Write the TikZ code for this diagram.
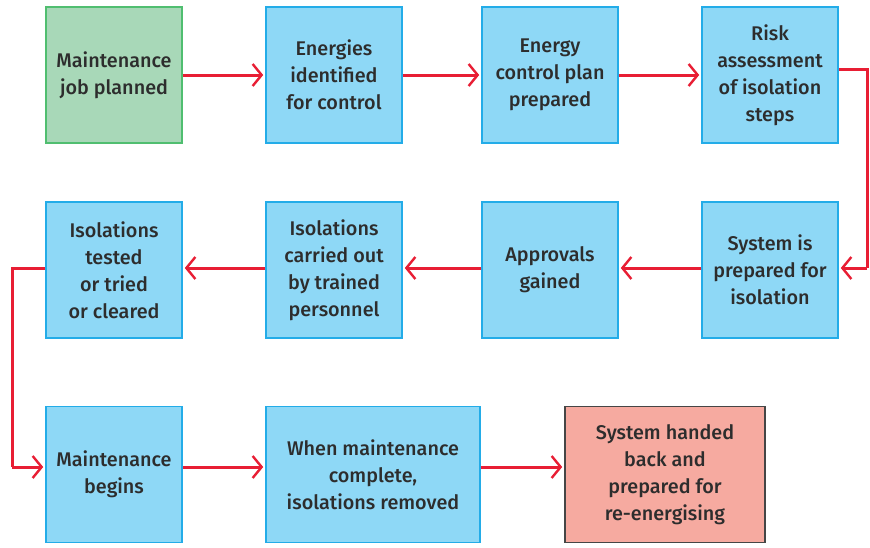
\documentclass[tikz,border=0pt]{standalone}
\usepackage{fontspec}
\setmainfont{Fira Sans}[UprightFont=* Medium]
\usetikzlibrary{arrows.meta}
\definecolor{boxblue}{RGB}{142,216,246}
\definecolor{edgeblue}{RGB}{35,172,232}
\definecolor{boxgreen}{RGB}{168,216,184}
\definecolor{edgegreen}{RGB}{80,190,112}
\definecolor{boxpink}{RGB}{246,170,160}
\definecolor{edgegray}{RGB}{70,70,70}
\definecolor{arrred}{RGB}{232,30,52}
\definecolor{txt}{RGB}{45,45,45}
\tikzset{
  stepbox/.style={draw=edgeblue, fill=boxblue, line width=1.6pt, minimum width=136pt, minimum height=136pt,
    inner sep=2pt, align=center, text=txt, font=\fontsize{19.8}{27}\selectfont},
  startbox/.style={stepbox, draw=edgegreen, fill=boxgreen},
  endbox/.style={stepbox, draw=edgegray, fill=boxpink},
  flow/.style={draw=arrred, line width=3pt, -{Straight Barb[length=9pt,width=22pt,line width=2.4pt]}, shorten >=2pt},
  link/.style={draw=arrred, line width=3pt}
}
\begin{document}
\begin{tikzpicture}[x=1pt,y=-1pt]
\useasboundingbox (0,0) rectangle (870,547);
% row 1
\node[startbox] (a1) at (114,75) {Maintenance\\job planned};
\node[stepbox] (a2) at (334,75) {Energies\\identified\\for control};
\node[stepbox] (a3) at (550,75) {Energy\\control plan\\prepared};
\node[stepbox] (a4) at (770,75) {Risk\\assessment\\of isolation\\steps};
% row 2
\node[stepbox] (b4) at (770,270) {System is\\prepared for\\isolation};
\node[stepbox] (b3) at (550,270) {Approvals\\gained};
\node[stepbox] (b2) at (334,270) {Isolations\\carried out\\by trained\\personnel};
\node[stepbox] (b1) at (114,270) {Isolations\\tested\\or tried\\or cleared};
% row 3
\node[stepbox] (c1) at (114,474.5) {Maintenance\\begins};
\node[stepbox, minimum width=214pt] (c2) at (373,474.5) {When maintenance\\complete,\\isolations removed};
\node[endbox, minimum width=200pt] (c3) at (665,474.5) {System handed\\back and\\prepared for\\re-energising};
% connectors
\draw[flow] (a1.east |- 0,75) -- (a2.west |- 0,75);
\draw[flow] (a2.east |- 0,75) -- (a3.west |- 0,75);
\draw[flow] (a3.east |- 0,75) -- (a4.west |- 0,75);
\coordinate (r1) at (867,69);
\coordinate (r2) at (867,268);
\draw[link] (a4.east |- r1) -- (r1) -- (r2);
\draw[flow] (r2) -- (b4.east |- r2);
\draw[flow] (b4.west |- 0,268) -- (b3.east |- 0,268);
\draw[flow] (b3.west |- 0,268) -- (b2.east |- 0,268);
\draw[flow] (b2.west |- 0,268) -- (b1.east |- 0,268);
\coordinate (l1) at (12,268);
\coordinate (l2) at (12,467);
\draw[link] (b1.west |- l1) -- (l1) -- (l2);
\draw[flow] (l2) -- (c1.west |- l2);
\draw[flow] (c1.east |- 0,467) -- (c2.west |- 0,467);
\draw[flow] (c2.east |- 0,467) -- (c3.west |- 0,467);
\end{tikzpicture}
\end{document}
